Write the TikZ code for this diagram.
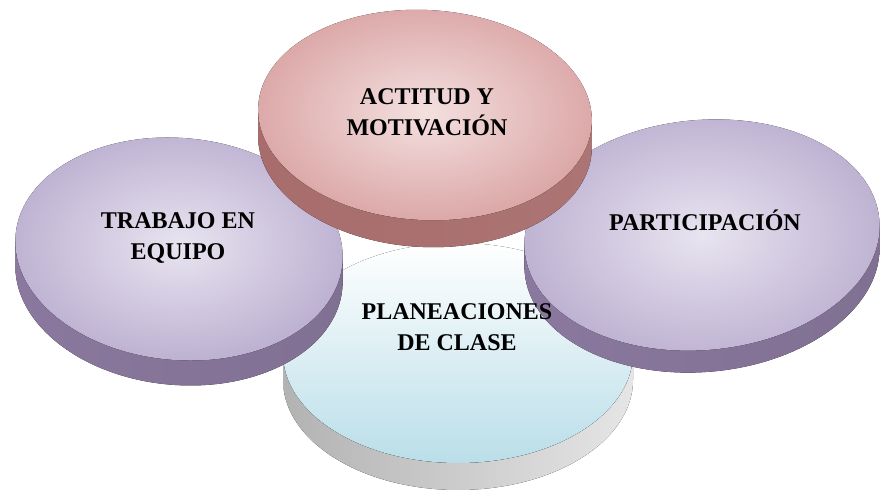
\documentclass[tikz,border=0pt]{standalone}
\usepackage{fontspec}
\setmainfont{Liberation Serif}
\usepackage{tikz}
\definecolor{lilaclaro}{RGB}{232,228,240}
\definecolor{lilaoscuro}{RGB}{190,178,210}
\definecolor{lilaborde1}{RGB}{138,120,158}
\definecolor{lilaborde2}{RGB}{96,82,112}
\definecolor{lilaborde3}{RGB}{128,112,146}
\definecolor{rosaclaro}{RGB}{244,224,224}
\definecolor{rosaoscuro}{RGB}{220,168,168}
\definecolor{rosaborde1}{RGB}{168,108,108}
\definecolor{rosaborde2}{RGB}{116,74,74}
\definecolor{rosaborde3}{RGB}{172,116,116}
\definecolor{azulfondo}{RGB}{186,222,232}
\tikzset{
  lilaface/.style={inner color=lilaclaro, outer color=lilaoscuro},
  lilaside/.style={left color=lilaborde1, middle color=lilaborde2, right color=lilaborde3},
  rosaface/.style={inner color=rosaclaro, outer color=rosaoscuro},
  rosaside/.style={left color=rosaborde1, middle color=rosaborde2, right color=rosaborde3},
  azulface/.style={top color=white, bottom color=azulfondo},
  azulside/.style={left color=gray!60, middle color=gray!70, right color=gray!20},
  etiqueta/.style={align=center, font=\fontsize{24}{31}\selectfont\bfseries}
}
\begin{document}
\begin{tikzpicture}[x=1pt,y=1pt]
\useasboundingbox (0,0) rectangle (881,493);
% discos: centro, radios, giro, grosor, estilos
\foreach \cx/\cy/\ra/\rb/\rot/\grosor/\fs/\ss in {
    458/140/175/110/0/27/azulface/azulside,
    179/244/164/111/-5/25/lilaface/lilaside,
    702/258/178/115/5/22/lilaface/lilaside,
    425/378/167/105/-3/27/rosaface/rosaside}
{
  \begin{scope}[shift={(\cx,\cy)}, rotate=\rot]
    \pgfmathsetmacro\ta{atan(-(\rb/\ra)*tan(\rot))}
    \fill [\ss] ({\ra*cos(180+\ta)},{\rb*sin(180+\ta)}) arc [start angle=180+\ta, end angle=360+\ta, x radius=\ra, y radius=\rb]
      -- ++({-\grosor*sin(\rot)},{-\grosor*cos(\rot)})
      arc [start angle=360+\ta, end angle=180+\ta, x radius=\ra, y radius=\rb] -- cycle;
    \fill [\fs] (0,0) ellipse [x radius=\ra, y radius=\rb];
  \end{scope}
}
\node [etiqueta] (planeaciones) at (457,166) {PLANEACIONES\\DE CLASE};
\node [etiqueta] (trabajo) at (178,255) {TRABAJO EN\\EQUIPO};
\node [etiqueta] (participacion) at (705,273) {PARTICIPACIÓN};
\node [etiqueta] (actitud) at (427,381) {ACTITUD Y\\MOTIVACIÓN};
\end{tikzpicture}
\end{document}
